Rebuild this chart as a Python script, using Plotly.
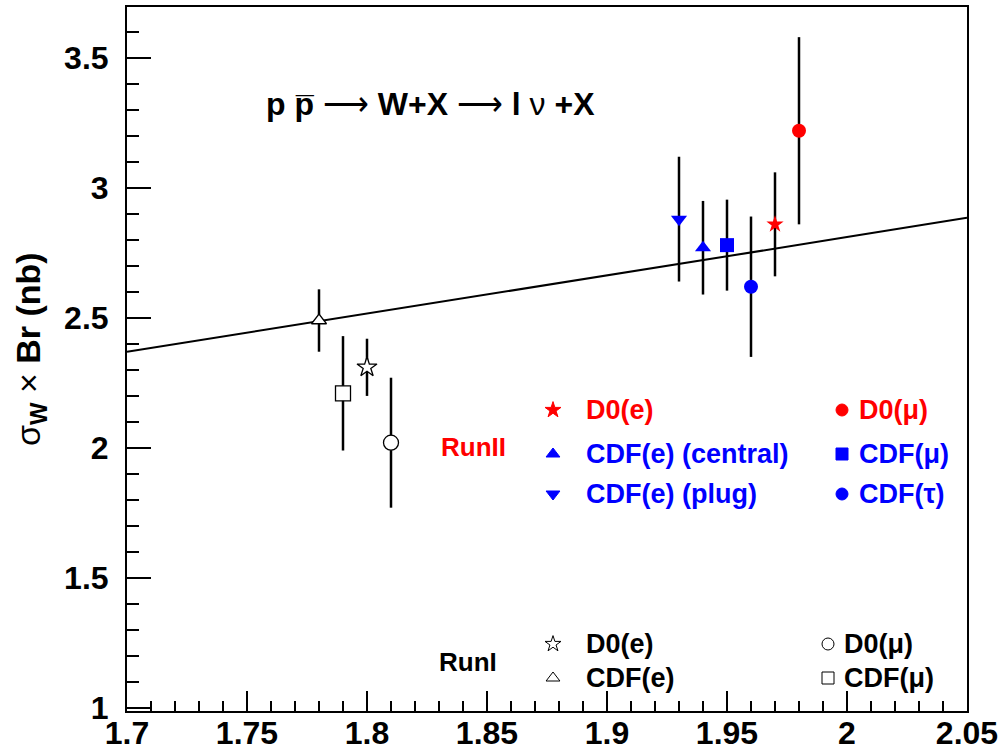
import plotly.graph_objects as go

# ---------------- data ----------------
run2_labels = ["D0(e)", "CDF(e) (central)", "CDF(e) (plug)", "D0(μ)", "CDF(μ)", "CDF(τ)"]
run2_x = [1.97, 1.94, 1.93, 1.98, 1.95, 1.96]
run2_y = [2.86, 2.77, 2.88, 3.22, 2.78, 2.62]
run2_err = [0.20, 0.18, 0.24, 0.36, 0.175, 0.27]
run2_symbols = ["star", "triangle-up", "triangle-down", "circle", "square", "circle"]
run2_colors = ["#ff0000", "#0000ff", "#0000ff", "#ff0000", "#0000ff", "#0000ff"]

run1_labels = ["D0(e)", "CDF(e)", "D0(μ)", "CDF(μ)"]
run1_x = [1.80, 1.78, 1.81, 1.79]
run1_y = [2.31, 2.49, 2.02, 2.21]
run1_err = [0.11, 0.12, 0.25, 0.22]
run1_symbols = ["star", "triangle-up", "circle", "square"]

theory_x = [1.70, 1.75, 1.80, 1.85, 1.90, 1.95, 2.00, 2.05]
theory_y = [2.370, 2.443, 2.517, 2.590, 2.664, 2.737, 2.811, 2.885]

x_ticks = [1.7, 1.75, 1.8, 1.85, 1.9, 1.95, 2.0, 2.05]
x_ticktext = ["1.7", "1.75", "1.8", "1.85", "1.9", "1.95", "2", "2.05"]
y_ticks = [1, 1.5, 2, 2.5, 3, 3.5]
y_ticktext = ["1", "1.5", "2", "2.5", "3", "3.5"]

# ---------------- layout geometry (pixels) ----------------
W, H = 1005, 754
L, R, T, B = 127, 38, 7, 43
PW, PH = W - L - R, H - T - B


def px(xp):
    return (xp - L) / PW


def py(yp):
    return (H - B - yp) / PH


FONT = "Liberation Sans, Arial, sans-serif"
RED = "#ff0000"
BLUE = "#0000ff"

fig = go.Figure()

# theory line
fig.add_trace(go.Scatter(x=theory_x, y=theory_y, mode="lines",
                         line=dict(color="black", width=2), showlegend=False,
                         hoverinfo="skip"))

# Run I points (open markers with white interior)
for i in range(len(run1_x)):
    fig.add_trace(go.Scatter(
        x=[run1_x[i]], y=[run1_y[i]], mode="markers",
        marker=dict(symbol=run1_symbols[i], size=15 if i != 1 else 13,
                    color="white", line=dict(width=1.3, color="black")),
        error_y=dict(type="data", array=[run1_err[i]], color="black",
                     thickness=2.5, width=0),
        showlegend=False, name=run1_labels[i]))

# Run II points
for i in range(len(run2_x)):
    fig.add_trace(go.Scatter(
        x=[run2_x[i]], y=[run2_y[i]], mode="markers",
        marker=dict(symbol=run2_symbols[i],
                    size=14 if run2_symbols[i] != "star" else 13,
                    color=run2_colors[i], line=dict(width=0)),
        error_y=dict(type="data", array=[run2_err[i]], color="black",
                     thickness=2.5, width=0),
        showlegend=False, name=run2_labels[i]))

# ---------------- custom legend ----------------
r2_rows = [410, 454, 494]
r2_cols = [(553, 584), (842, 857)]
r2_text_colors = [RED, BLUE, BLUE, RED, BLUE, BLUE]
r1_rows = [644, 678]
r1_cols = [(553, 584), (828, 842)]

leg_mx, leg_my, leg_sym, leg_fill, leg_line = [], [], [], [], []
annotations = []
for k, lab in enumerate(run2_labels):
    c, r = k // 3, k % 3
    mx, tx = r2_cols[c]
    yy = r2_rows[r]
    leg_mx.append(px(mx))
    leg_my.append(py(yy))
    leg_sym.append(run2_symbols[k])
    leg_fill.append(run2_colors[k])
    leg_line.append(run2_colors[k])
    annotations.append(dict(x=px(tx), y=py(yy), xref="paper", yref="paper",
                            text="<b>%s</b>" % lab, showarrow=False,
                            xanchor="left", yanchor="middle",
                            font=dict(family=FONT, size=27, color=r2_text_colors[k])))
for k, lab in enumerate(run1_labels):
    c, r = k // 2, k % 2
    mx, tx = r1_cols[c]
    yy = r1_rows[r]
    leg_mx.append(px(mx))
    leg_my.append(py(yy))
    leg_sym.append(run1_symbols[k])
    leg_fill.append("white")
    leg_line.append("black")
    annotations.append(dict(x=px(tx), y=py(yy), xref="paper", yref="paper",
                            text="<b>%s</b>" % lab, showarrow=False,
                            xanchor="left", yanchor="middle",
                            font=dict(family=FONT, size=27, color="black")))

fig.add_trace(go.Scatter(
    x=leg_mx, y=leg_my, xaxis="x2", yaxis="y2", mode="markers",
    marker=dict(symbol=leg_sym, color=leg_fill, size=12,
                line=dict(width=1, color=leg_line)),
    showlegend=False, hoverinfo="skip"))

annotations.append(dict(x=px(439), y=py(447), xref="paper", yref="paper",
                        text="<b>RunII</b>", showarrow=False, xanchor="left",
                        yanchor="middle", font=dict(family=FONT, size=26, color=RED)))
annotations.append(dict(x=px(437), y=py(662), xref="paper", yref="paper",
                        text="<b>RunI</b>", showarrow=False, xanchor="left",
                        yanchor="middle", font=dict(family=FONT, size=26, color="black")))

# process label
annotations.append(dict(x=px(430), y=py(104), xref="paper", yref="paper",
                        text="<b>p</b> <b>p\u0305</b> \u27f6 <b>W+X</b> \u27f6 <b>l</b> ν <b>+X</b>",
                        showarrow=False, xanchor="center", yanchor="middle",
                        font=dict(family=FONT, size=32, color="black")))

# y title
annotations.append(dict(x=px(30), y=py(349), xref="paper", yref="paper",
                        text="σ<sub><b>W</b></sub> × <b>Br (nb)</b>",
                        textangle=-90, showarrow=False, xanchor="center",
                        yanchor="middle",
                        font=dict(family=FONT, size=34, color="black")))

fig.update_layout(
    width=W, height=H,
    margin=dict(l=L, r=R, t=T, b=B, pad=0, autoexpand=False),
    paper_bgcolor="white", plot_bgcolor="white",
    showlegend=False,
    annotations=annotations,
    xaxis=dict(range=[1.7, 2.05], tickvals=x_ticks, ticktext=x_ticktext,
               ticks="inside", ticklen=20, tickwidth=2, tickcolor="black",
               showline=True, linewidth=2, linecolor="black", mirror=True,
               showgrid=False, zeroline=False, ticklabelstandoff=-7,
               automargin=False,
               tickfont=dict(family=FONT, size=32, color="black", weight="bold"),
               minor=dict(dtick=0.01, tick0=1.7, ticks="inside", ticklen=10,
                          tickwidth=2, tickcolor="black", showgrid=False)),
    yaxis=dict(range=[0.988, 3.696], tickvals=y_ticks, ticktext=y_ticktext,
               ticks="inside", ticklen=24, tickwidth=2, tickcolor="black",
               showline=True, linewidth=2, linecolor="black", mirror=True,
               showgrid=False, zeroline=False, ticklabelstandoff=10,
               automargin=False,
               tickfont=dict(family=FONT, size=32, color="black", weight="bold"),
               minor=dict(dtick=0.1, tick0=1.0, ticks="inside", ticklen=12,
                          tickwidth=2, tickcolor="black", showgrid=False)),
    xaxis2=dict(range=[0, 1], overlaying="x", visible=False, fixedrange=True),
    yaxis2=dict(range=[0, 1], overlaying="y", visible=False, fixedrange=True),
)

fig.write_html("out.html")
